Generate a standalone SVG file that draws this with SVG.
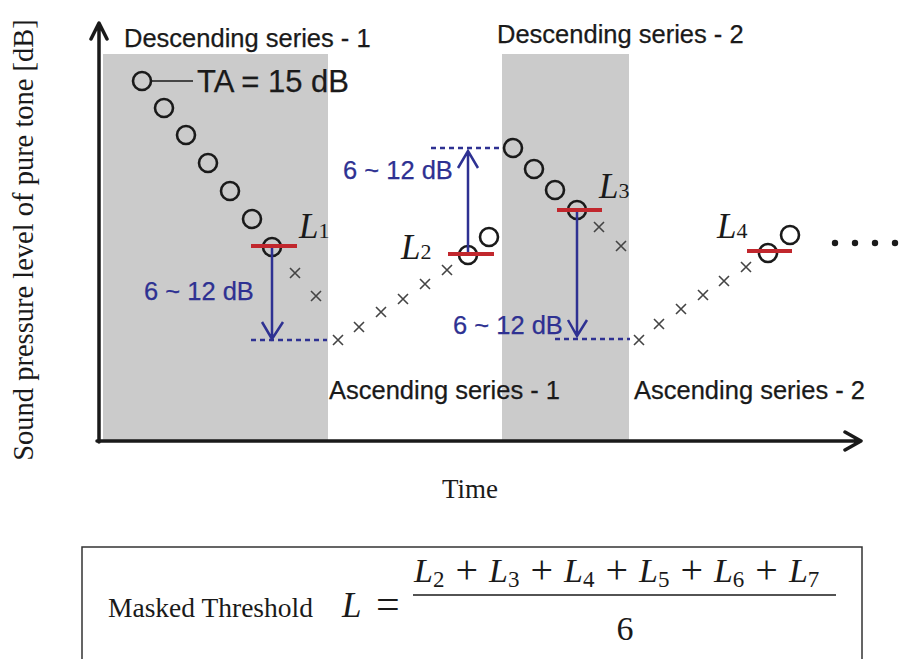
<svg xmlns="http://www.w3.org/2000/svg" width="909" height="659" viewBox="0 0 909 659">
<defs>
<style>
.ax{stroke:#1a1a1a;stroke-width:3.5;fill:none;stroke-linecap:round;stroke-linejoin:round}
.c{fill:none;stroke:#1a1a1a;stroke-width:2.6}
.x{stroke:#444;stroke-width:1.6;fill:none}
.red{stroke:#c1272d;stroke-width:4}
.blue{stroke:#2e3192;stroke-width:2.5;fill:none}
.dot{stroke:#2e3192;stroke-width:2.5;stroke-dasharray:5 4}
.sans{font-family:"Liberation Sans",Arial,sans-serif;fill:#1a1a1a;stroke:#1a1a1a;stroke-width:0.25}
.bt{font-family:"Liberation Sans",Arial,sans-serif;fill:#2e3192;stroke:#2e3192;stroke-width:0.25;font-size:25.5px}
.serif{font-family:"Liberation Serif","Times New Roman",serif;fill:#1a1a1a}
.it{font-style:italic}
.sub{font-size:22px;font-style:normal}
.op{font-size:40px}
</style>
<path id="cr" d="M-5,-5L5,5M-5,5L5,-5"/>
</defs>

<g id="background">
<rect x="103" y="54" width="225" height="388" fill="#cbcbcb"/>
<rect x="502" y="54" width="127" height="388" fill="#cbcbcb"/>
</g>

<g id="axes">
<path class="ax" d="M99,442V24M91,39L99,23L107,39"/>
<path class="ax" d="M97,441H860M845,432L861,441L845,450"/>
<text class="serif" x="470" y="498" font-size="27" text-anchor="middle">Time</text>
<text class="serif" font-size="28.5" text-anchor="middle" transform="translate(33,240) rotate(-90)">Sound pressure level of pure tone [dB]</text>
</g>

<g id="labels">
<text class="sans" x="124" y="47" font-size="25.5">Descending series - 1</text>
<text class="sans" x="497" y="43" font-size="25.5">Descending series - 2</text>
<text class="sans" x="329" y="399" font-size="25.5">Ascending series - 1</text>
<text class="sans" x="634" y="399" font-size="25.5">Ascending series - 2</text>
</g>

<g id="descending1">
<line x1="151" y1="81" x2="193" y2="81" stroke="#1a1a1a" stroke-width="1.5"/>
<text class="sans" x="197" y="92" font-size="31">TA = 15 dB</text>
<circle class="c" cx="142" cy="81" r="9"/>
<circle class="c" cx="164" cy="108" r="9"/>
<circle class="c" cx="186" cy="135" r="9"/>
<circle class="c" cx="208" cy="163" r="9"/>
<circle class="c" cx="230" cy="191" r="9"/>
<circle class="c" cx="252" cy="219" r="9"/>
<circle class="c" cx="272" cy="247" r="9"/>
<use href="#cr" class="x" x="295" y="273"/>
<use href="#cr" class="x" x="316" y="296"/>
</g>

<g id="ascending1">
<use href="#cr" class="x" x="338" y="340"/>
<use href="#cr" class="x" x="359" y="327"/>
<use href="#cr" class="x" x="381" y="312"/>
<use href="#cr" class="x" x="403" y="299"/>
<use href="#cr" class="x" x="425" y="284"/>
<use href="#cr" class="x" x="447" y="270"/>
<circle class="c" cx="468" cy="255" r="9"/>
<circle class="c" cx="489" cy="237" r="9"/>
</g>

<g id="descending2">
<circle class="c" cx="513" cy="148" r="9"/>
<circle class="c" cx="534" cy="169" r="9"/>
<circle class="c" cx="555" cy="190" r="9"/>
<circle class="c" cx="577" cy="210" r="9"/>
<use href="#cr" class="x" x="599" y="227"/>
<use href="#cr" class="x" x="621" y="246"/>
</g>

<g id="ascending2">
<use href="#cr" class="x" x="639" y="340"/>
<use href="#cr" class="x" x="659" y="324"/>
<use href="#cr" class="x" x="681" y="309"/>
<use href="#cr" class="x" x="703" y="295"/>
<use href="#cr" class="x" x="724" y="281"/>
<use href="#cr" class="x" x="746" y="267"/>
<circle class="c" cx="768" cy="253" r="9"/>
<circle class="c" cx="790" cy="235" r="9"/>
<circle cx="835" cy="243" r="3.2" fill="#1a1a1a"/>
<circle cx="855" cy="243" r="3.2" fill="#1a1a1a"/>
<circle cx="875" cy="243" r="3.2" fill="#1a1a1a"/>
<circle cx="895" cy="243" r="3.2" fill="#1a1a1a"/>
</g>

<g id="connectors">
<line class="dot" x1="251" y1="340" x2="327" y2="340"/>
<path class="blue" d="M272,247V338M262,322L272,339L283,322"/>
<line class="dot" x1="431" y1="148" x2="503" y2="148"/>
<path class="blue" d="M468,254V152M458,168L468,151L478,168"/>
<line class="dot" x1="555" y1="339" x2="630" y2="339"/>
<path class="blue" d="M577,210V335M568,320L577,336L587,320"/>
</g>

<g id="thresholds">
<line class="red" x1="251" y1="246" x2="297" y2="246"/>
<text class="serif it" x="299" y="238" font-size="35">L<tspan class="sub">1</tspan></text>
<line class="red" x1="448" y1="254" x2="494" y2="254"/>
<text class="serif it" x="401" y="259" font-size="35">L<tspan class="sub">2</tspan></text>
<line class="red" x1="557" y1="210" x2="602" y2="210"/>
<text class="serif it" x="599" y="198" font-size="35">L<tspan class="sub">3</tspan></text>
<line class="red" x1="747" y1="251" x2="792" y2="251"/>
<text class="serif it" x="717" y="238" font-size="35">L<tspan class="sub">4</tspan></text>
</g>

<g id="dB-labels">
<text class="bt" x="144" y="300">6 ~ 12 dB</text>
<text class="bt" x="343" y="179">6 ~ 12 dB</text>
<text class="bt" x="453" y="334">6 ~ 12 dB</text>
</g>

<g id="formula">
<rect x="82" y="547" width="780" height="130" fill="none" stroke="#333" stroke-width="1.5"/>
<text class="serif" x="108" y="617" font-size="27.5">Masked Threshold</text>
<text class="serif it" x="342" y="617" font-size="35">L</text>
<text class="serif" x="376" y="618" font-size="42">=</text>
<line x1="413" y1="595" x2="836" y2="595" stroke="#1a1a1a" stroke-width="1.5"/>
<text class="serif" x="414" y="582" font-size="34"><tspan class="it">L</tspan><tspan font-size="23" dy="5">2</tspan><tspan class="op" dx="11" dy="-4">+</tspan><tspan class="it" dx="11" dy="-1">L</tspan><tspan font-size="23" dy="5">3</tspan><tspan class="op" dx="11" dy="-4">+</tspan><tspan class="it" dx="11" dy="-1">L</tspan><tspan font-size="23" dy="5">4</tspan><tspan class="op" dx="11" dy="-4">+</tspan><tspan class="it" dx="11" dy="-1">L</tspan><tspan font-size="23" dy="5">5</tspan><tspan class="op" dx="11" dy="-4">+</tspan><tspan class="it" dx="11" dy="-1">L</tspan><tspan font-size="23" dy="5">6</tspan><tspan class="op" dx="11" dy="-4">+</tspan><tspan class="it" dx="11" dy="-1">L</tspan><tspan font-size="23" dy="5">7</tspan></text>
<text class="serif" x="625" y="640" font-size="34" text-anchor="middle">6</text>
</g>
</svg>
